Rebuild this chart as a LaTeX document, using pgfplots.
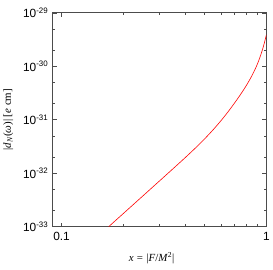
\documentclass[border=0pt]{standalone}
\usepackage{fontspec}
\setmainfont{Liberation Serif}
\setsansfont{Liberation Sans}
\usepackage{pgfplots}
\pgfplotsset{compat=1.18}
\begin{document}
\begin{tikzpicture}
\begin{axis}[
  scale only axis,
  width=216pt, height=216pt,
  xmode=log, ymode=log,
  xmin=0.0905, xmax=1,
  ymin=1e-33, ymax=1e-29,
  axis line style={black!70, line width=0.8pt},
  tick style={black!70, line width=0.5pt},
  major tick length=4pt, minor tick length=2.2pt,
  tick align=inside,
  xtick={0.1,1}, xticklabels={0.1,1},
  minor xtick={0.2,0.3,0.4,0.5,0.6,0.7,0.8,0.9},
  ytick={1e-33,1e-32,1e-31,1e-30,1e-29},
  yticklabels={10\textsuperscript{-33},10\textsuperscript{-32},10\textsuperscript{-31},10\textsuperscript{-30},10\textsuperscript{-29}},
  minor ytick={2e-33,5e-33,2e-32,5e-32,2e-31,5e-31,2e-30,5e-30},
  ticklabel style={font=\sffamily\fontsize{12}{13}\selectfont},
  xticklabel style={yshift=-2pt},
  yticklabel style={xshift=-1pt},
  xlabel={\textit{x}\hspace{0.3em}=\hspace{0.3em}|\textit{F}/\textit{M}\textsuperscript{2}|},
  ylabel={|\textit{d}\textsubscript{\textit{N}}(\textit{ω})| [\textit{e} cm]},
  label style={font=\fontsize{11}{12}\selectfont},
  xlabel style={at={(axis description cs:0.463,-0.148)}, anchor=center},
  ylabel style={at={(axis description cs:-0.208,0.5)}, anchor=center, rotate=0},
]
\addplot[red, line width=0.6pt, smooth] table {
x y
0.17 1.00e-33
0.20 1.75e-33
0.25 3.78e-33
0.30 7.10e-33
0.35 1.21e-32
0.40 1.93e-32
0.45 2.95e-32
0.50 4.41e-32
0.55 6.52e-32
0.60 9.59e-32
0.65 1.41e-31
0.70 2.07e-31
0.75 3.02e-31
0.80 4.44e-31
0.85 6.70e-31
0.90 1.06e-30
0.94 1.66e-30
0.97 2.46e-30
1.00 3.89e-30
};
\end{axis}
\path[use as bounding box] ([xshift=-53pt,yshift=-43pt]current axis.south west) rectangle ([xshift=4pt,yshift=13pt]current axis.north east);
\end{tikzpicture}
\end{document}
